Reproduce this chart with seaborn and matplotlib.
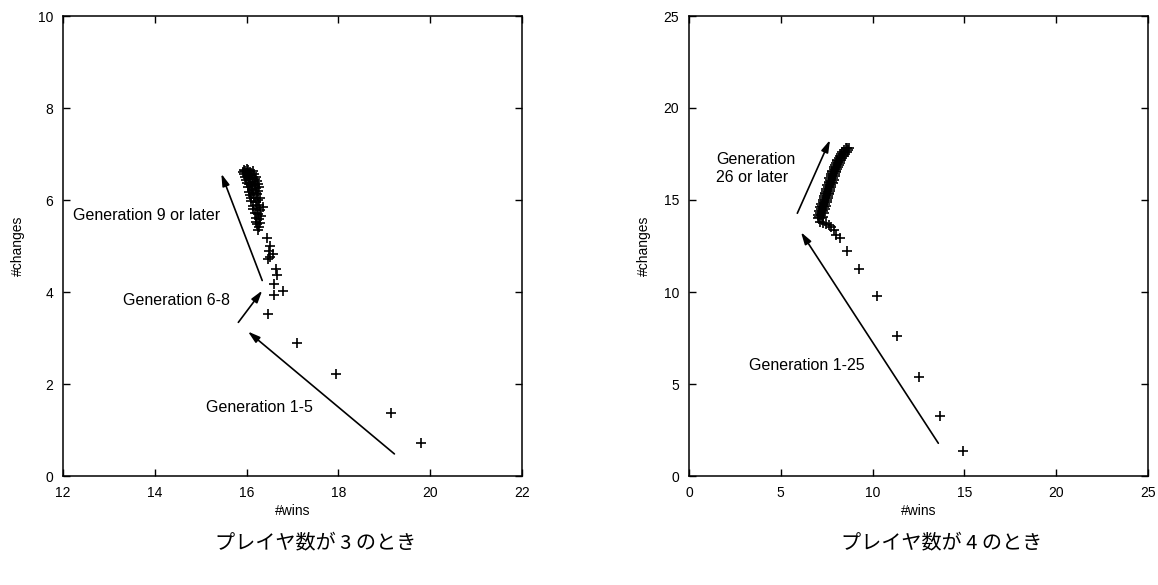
import matplotlib
matplotlib.use("Agg")
import matplotlib.pyplot as plt
import seaborn as sns
import pandas as pd

# ---------------- data: 3 players ----------------
p3_gen_early_x = [19.80, 19.15, 17.95, 17.10, 16.46]
p3_gen_early_y = [0.72, 1.37, 2.22, 2.90, 3.53]

p3_gen_mid_x = [16.59, 16.79, 16.60, 16.66, 16.65, 16.46, 16.50, 16.57, 16.48, 16.51, 16.45]
p3_gen_mid_y = [3.93, 4.02, 4.17, 4.38, 4.50, 4.72, 4.76, 4.83, 4.90, 5.00, 5.18]

p3_gen_late_x = [16.25, 16.28, 16.22, 16.30, 16.27, 16.20, 16.32, 16.25, 16.18, 16.30,
                 16.22, 16.35, 16.15, 16.27, 16.20, 16.10, 16.25, 16.17, 16.30, 16.08,
                 16.22, 16.15, 16.05, 16.25, 16.12, 16.20, 16.03, 16.10, 16.18, 16.25,
                 16.00, 16.08, 16.15, 16.22, 15.98, 16.05, 16.12, 16.20, 15.96, 16.02,
                 16.10, 16.16, 15.95, 16.00, 16.07, 16.13, 15.97, 16.03, 15.95, 16.00,
                 16.08, 16.18, 16.05, 16.12, 16.20, 16.10, 16.28, 16.15, 16.20, 15.92]
p3_gen_late_y = [5.35, 5.42, 5.48, 5.50, 5.58, 5.60, 5.65, 5.70, 5.72, 5.78,
                 5.82, 5.85, 5.88, 5.90, 5.95, 5.98, 6.00, 6.05, 6.05, 6.10,
                 6.12, 6.15, 6.18, 6.20, 6.22, 6.27, 6.28, 6.30, 6.33, 6.35,
                 6.36, 6.38, 6.40, 6.42, 6.44, 6.45, 6.47, 6.50, 6.50, 6.52,
                 6.54, 6.56, 6.57, 6.59, 6.60, 6.62, 6.63, 6.65, 6.66, 6.68,
                 6.55, 6.45, 6.35, 6.25, 6.15, 6.05, 6.28, 5.80, 5.52, 6.60]

# ---------------- data: 4 players ----------------
p4_gen_early_x = [14.95, 13.65, 12.52, 11.33, 10.25, 9.27, 8.58, 8.20, 8.02, 7.88,
                  7.75, 7.60, 7.45, 7.30, 7.15]
p4_gen_early_y = [1.35, 3.25, 5.40, 7.60, 9.76, 11.27, 12.25, 12.95, 13.12, 13.35,
                  13.55, 13.62, 13.70, 13.75, 13.80]

p4_gen_late_x = [7.00, 7.25, 7.10, 7.30, 7.05, 7.20, 7.15, 7.35, 7.10, 7.30,
                 7.20, 7.40, 7.15, 7.35, 7.25, 7.45, 7.20, 7.40, 7.30, 7.50,
                 7.28, 7.50, 7.35, 7.55, 7.33, 7.55, 7.42, 7.60, 7.40, 7.62,
                 7.48, 7.68, 7.46, 7.70, 7.55, 7.75, 7.52, 7.75, 7.60, 7.82,
                 7.60, 7.80, 7.66, 7.88, 7.65, 7.87, 7.72, 7.93, 7.72, 7.95,
                 7.80, 8.00, 7.80, 8.02, 7.88, 8.08, 7.90, 8.10, 7.96, 8.16,
                 7.98, 8.20, 8.05, 8.25, 8.08, 8.30, 8.15, 8.35, 8.20, 8.42,
                 8.28, 8.50, 8.35, 8.58, 8.45, 8.65, 8.55, 8.70, 8.62]
p4_gen_late_y = [14.00, 14.00, 14.10, 14.10, 14.20, 14.20, 14.30, 14.30, 14.40, 14.40,
                 14.50, 14.50, 14.60, 14.60, 14.70, 14.70, 14.80, 14.80, 14.90, 14.90,
                 15.00, 15.00, 15.10, 15.10, 15.20, 15.20, 15.30, 15.30, 15.40, 15.40,
                 15.50, 15.50, 15.60, 15.60, 15.70, 15.70, 15.80, 15.80, 15.90, 15.90,
                 16.00, 16.00, 16.10, 16.10, 16.20, 16.20, 16.30, 16.30, 16.40, 16.40,
                 16.50, 16.50, 16.60, 16.60, 16.70, 16.70, 16.80, 16.80, 16.90, 16.90,
                 17.00, 17.00, 17.10, 17.10, 17.20, 17.20, 17.30, 17.30, 17.40, 17.40,
                 17.50, 17.50, 17.60, 17.60, 17.70, 17.70, 17.80, 17.80, 17.85]

xticks_3 = [12, 14, 16, 18, 20, 22]
yticks_3 = [0, 2, 4, 6, 8, 10]
xticks_4 = [0, 5, 10, 15, 20, 25]
yticks_4 = [0, 5, 10, 15, 20, 25]

captions = ["プレイヤ数が 3 のとき", "プレイヤ数が 4 のとき"]

# ---------------- style ----------------
sns.set_style("ticks")
plt.rcParams['font.family'] = ['Liberation Sans', 'DejaVu Sans']
plt.rcParams['text.color'] = 'black'
plt.rcParams['axes.labelcolor'] = 'black'

fig = plt.figure(figsize=(11.58, 5.85), dpi=100)
ax1 = fig.add_axes([63 / 1158, 109 / 585, 459 / 1158, 460 / 585])
ax2 = fig.add_axes([689 / 1158, 109 / 585, 459 / 1158, 460 / 585])

df3 = pd.DataFrame({"wins": p3_gen_early_x + p3_gen_mid_x + p3_gen_late_x,
                    "changes": p3_gen_early_y + p3_gen_mid_y + p3_gen_late_y})
df4 = pd.DataFrame({"wins": p4_gen_early_x + p4_gen_late_x,
                    "changes": p4_gen_early_y + p4_gen_late_y})

for ax, df in ((ax1, df3), (ax2, df4)):
    sns.scatterplot(data=df, x="wins", y="changes", marker="+", color="black",
                    s=55, linewidth=1.2, ax=ax, legend=False)

def style(ax, xt, yt):
    ax.set_xlim(xt[0], xt[-1])
    ax.set_ylim(yt[0], yt[-1])
    ax.set_xticks(xt)
    ax.set_yticks(yt)
    ax.tick_params(direction="in", top=True, right=True, length=5, width=1.0,
                   labelsize=10, pad=7, colors="black")
    for s in ax.spines.values():
        s.set_visible(True)
        s.set_linewidth(1.1)
        s.set_color("black")
    ax.set_xlabel("#wins", fontsize=10, labelpad=3)
    ax.set_ylabel("#changes", fontsize=10, labelpad=9)

style(ax1, xticks_3, yticks_3)
style(ax2, xticks_4, yticks_4)

arrow_kw = dict(arrowstyle="-|>,head_length=0.6,head_width=0.18", color="black",
                lw=1.2, mutation_scale=12, shrinkA=0, shrinkB=0)
txt_kw = dict(fontsize=11.5, va="center", ha="left", color="black")

# left annotations
ax1.annotate("", xy=(16.03, 3.14), xytext=(19.22, 0.48), arrowprops=arrow_kw)
ax1.annotate("", xy=(16.34, 4.03), xytext=(15.82, 3.34), arrowprops=arrow_kw)
ax1.annotate("", xy=(15.45, 6.57), xytext=(16.34, 4.25), arrowprops=arrow_kw)
ax1.text(15.11, 1.48, "Generation 1-5", **txt_kw)
ax1.text(13.31, 3.81, "Generation 6-8", **txt_kw)
ax1.text(12.22, 5.66, "Generation 9 or later", **txt_kw)

# right annotations
ax2.annotate("", xy=(6.1, 13.25), xytext=(13.58, 1.78), arrowprops=arrow_kw)
ax2.annotate("", xy=(7.68, 18.26), xytext=(5.9, 14.28), arrowprops=arrow_kw)
ax2.text(3.29, 6.03, "Generation 1-25", **txt_kw)
ax2.text(1.47, 16.72, "Generation\n26 or later", fontsize=11.5, va="center",
         ha="left", linespacing=1.3, color="black")

for ax, cap in zip((ax1, ax2), captions):
    pos = ax.get_position()
    fig.text(pos.x0 + pos.width / 2 + 0.02, 1 - 543 / 585, cap, ha="center",
             va="center", fontsize=14.5, color="black",
             family=["Noto Sans CJK JP", "DejaVu Sans"])

fig.savefig("out.png", dpi=100)
